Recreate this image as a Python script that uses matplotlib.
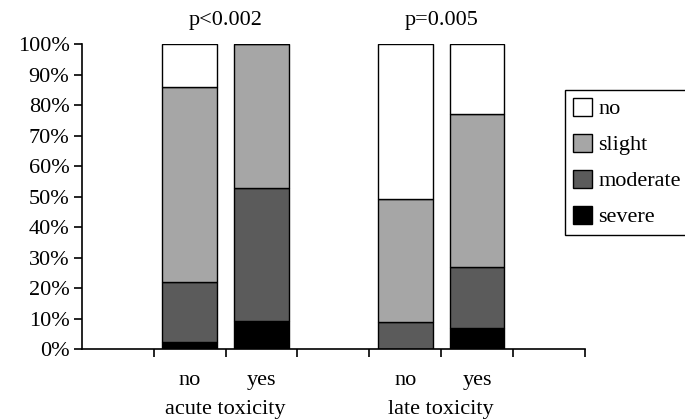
import numpy as np
import matplotlib.pyplot as plt

plt.rcParams['font.family'] = ['Liberation Serif', 'DejaVu Serif']

# data (percent of patients per toxicity grade)
groups = ["acute toxicity", "late toxicity"]
answers = ["no", "yes", "no", "yes"]
p_values = ["p<0.002", "p=0.005"]
grades = ["no", "slight", "moderate", "severe"]
severe = [2.4, 9.3, 0.0, 7.0]
moderate = [19.7, 43.6, 9.0, 19.9]
slight = [63.8, 47.1, 40.1, 50.1]
none = [14.1, 0.0, 50.9, 23.0]

colors = {"no": "white", "slight": "#a6a6a6", "moderate": "#5b5b5b", "severe": "black"}

xpos = [1, 2, 4, 5]
fs = 16

fig = plt.figure(figsize=(6.85, 4.19), dpi=100)
ax = fig.add_axes([0.1197, 0.167, 0.734, 0.727])

bottom = np.zeros(4)
handles = {}
for name, vals in [("severe", severe), ("moderate", moderate), ("slight", slight), ("no", none)]:
    vals = np.array(vals)
    b = ax.bar(xpos, vals, 0.76, bottom=bottom, color=colors[name],
               edgecolor="black", linewidth=1.0)
    handles[name] = b
    bottom += vals

ax.set_xlim(-0.5, 6.5)
ax.set_ylim(0, 100)
ax.set_yticks(np.arange(0, 101, 10))
ax.set_yticklabels([f"{v}%" for v in range(0, 101, 10)], fontsize=fs)

ax.set_xticks(np.arange(0.5, 6.6, 1.0))
ax.set_xticklabels([])
ax.set_xticks(xpos, minor=True)
ax.set_xticklabels(answers, minor=True, fontsize=fs)
ax.tick_params(axis="x", which="minor", length=0, pad=16)
ax.tick_params(axis="x", which="major", length=6, width=1.2, direction="out")
ax.tick_params(axis="y", length=6, width=1.2, pad=3)

for s in ["top", "right"]:
    ax.spines[s].set_visible(False)
for s in ["left", "bottom"]:
    ax.spines[s].set_linewidth(1.2)

# group labels below, p-values above
for i, g in enumerate(groups):
    xc = 1.5 + 3 * i
    ax.text(xc, -0.2, g, transform=ax.get_xaxis_transform(), ha="center",
            va="center", fontsize=fs)
    ax.text(xc, 1.08, p_values[i], transform=ax.get_xaxis_transform(), ha="center",
            va="center", fontsize=fs)

leg = fig.legend([handles[g] for g in grades], grades, loc="upper left",
                 bbox_to_anchor=(0.825, 0.785), fontsize=fs, frameon=True,
                 fancybox=False, edgecolor="black", framealpha=1,
                 handlelength=0.85, handleheight=0.85, handletextpad=0.3,
                 labelspacing=0.65, borderpad=0.35, borderaxespad=0)
leg.get_frame().set_linewidth(1.0)

fig.savefig("out.png", dpi=100)
